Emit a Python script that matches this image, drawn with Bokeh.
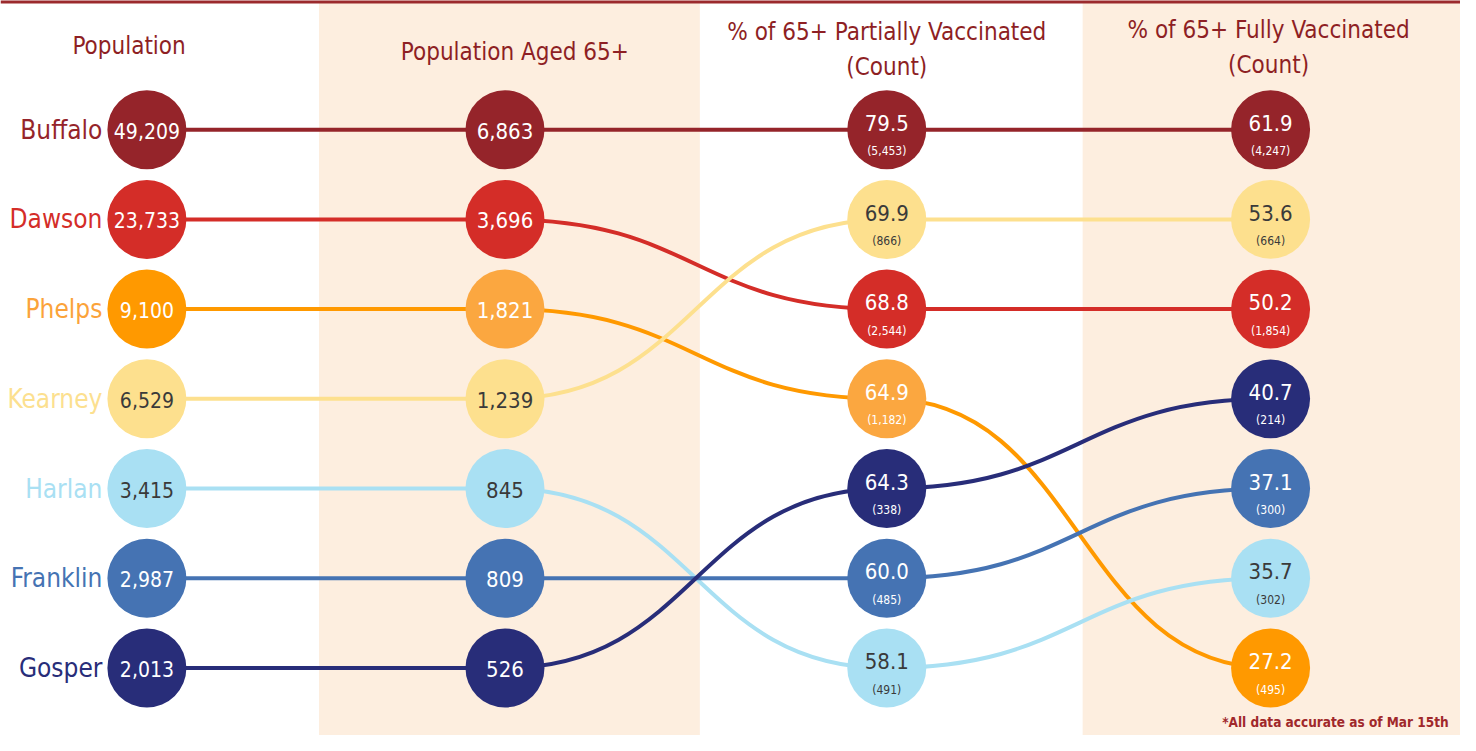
from bokeh.plotting import figure
from bokeh.models import Range1d
from bokeh.core.properties import value
from bokeh.embed import file_html
from bokeh.resources import INLINE

# ---------------- data ----------------
counties = ["Buffalo", "Dawson", "Phelps", "Kearney", "Harlan", "Franklin", "Gosper"]
population = [49209, 23733, 9100, 6529, 3415, 2987, 2013]
pop_65 = [6863, 3696, 1821, 1239, 845, 809, 526]
partial_pct = [79.5, 68.8, 64.9, 69.9, 58.1, 60.0, 64.3]
partial_count = [5453, 2544, 1182, 866, 491, 485, 338]
full_pct = [61.9, 50.2, 27.2, 53.6, 35.7, 37.1, 40.7]
full_count = [4247, 1854, 495, 664, 302, 300, 214]
headers = ["Population", "Population Aged 65+",
           "% of 65+ Partially Vaccinated\n(Count)", "% of 65+ Fully Vaccinated\n(Count)"]
footnote = "*All data accurate as of Mar 15th"

# ---------------- styles ----------------
colors = ["#95242A", "#D42D28", "#FF9900", "#FDE08E", "#A9E0F3", "#4573B3", "#282D79"]
mid_colors = ["#95242A", "#D42D28", "#FBA740", "#FDE08E", "#A9E0F3", "#4573B3", "#282D79"]
label_colors = ["#95242A", "#D42D28", "#FBA33A", "#FCE08F", "#A9E0F3", "#4573B3", "#282D79"]
text_colors = ["white", "white", "white", "#3A3A3A", "#3A3A3A", "white", "white"]
HEAD = "#8E1F24"
BAND = "#FDEEDF"
FONT = "DejaVu Sans Condensed"

col_x = [148, 510, 896, 1284]
row_y0 = 132
row_dy = 550 / 6


def ranks(vals):
    order = sorted(range(len(vals)), key=lambda i: -vals[i])
    r = [0] * len(vals)
    for k, i in enumerate(order):
        r[i] = k
    return r


cols = [population, pop_65, partial_pct, full_pct]
rank_cols = [ranks(c) for c in cols]
ypos = [[row_y0 + r * row_dy for r in rc] for rc in rank_cols]

p = figure(width=1460, height=735, x_range=Range1d(0, 1476), y_range=Range1d(751, 0),
           output_backend="svg", toolbar_location=None, min_border=0)
p.axis.visible = False
p.grid.visible = False
p.outline_line_color = None
p.background_fill_color = "white"
p.border_fill_color = "white"

# background bands
p.quad(left=[322, 1094], right=[707, 1480], top=[0, 0], bottom=[760, 760],
       fill_color=BAND, line_color=None)
# top border
p.quad(left=[0], right=[1480], top=[-2], bottom=[3], fill_color="#9B2A2D", line_color=None)

# connecting lines
n = len(counties)
for i in range(n):
    x0s, y0s, x1s, y1s, cxs, cys0, cys1 = [], [], [], [], [], [], []
    for c in range(3):
        xa, xb = col_x[c], col_x[c + 1]
        ya, yb = ypos[c][i], ypos[c + 1][i]
        x0s.append(xa); y0s.append(ya); x1s.append(xb); y1s.append(yb)
        cxs.append((xa + xb) / 2); cys0.append(ya); cys1.append(yb)
    p.bezier(x0=x0s, y0=y0s, x1=x1s, y1=y1s, cx0=cxs, cy0=cys0, cx1=cxs, cy1=cys1,
             line_color=colors[i], line_width=4)

# circles
for c in range(4):
    fills = colors if c in (0, 3) else mid_colors
    p.scatter(x=[col_x[c]] * n, y=ypos[c], size=79, fill_color=fills, line_color=None)

# county labels
p.text(x=[103] * n, y=ypos[0], text=counties, text_align="right", text_baseline="middle",
       text_color=label_colors, text_font=value(FONT), text_font_size="26px")

# values in circles (cols 1-2)
p.text(x=[col_x[0]] * n, y=[y + 1 for y in ypos[0]], text=[f"{v:,}" for v in population],
       text_align="center", text_baseline="middle", text_color=text_colors,
       text_font=value(FONT), text_font_size="21px")
p.text(x=[col_x[1]] * n, y=[y + 1 for y in ypos[1]], text=[f"{v:,}" for v in pop_65],
       text_align="center", text_baseline="middle", text_color=text_colors,
       text_font=value(FONT), text_font_size="22px")

# pct + count (cols 3-4)
for c, pct, cnt in ((2, partial_pct, partial_count), (3, full_pct, full_count)):
    p.text(x=[col_x[c]] * n, y=[y - 7 for y in ypos[c]], text=[f"{v:.1f}" for v in pct],
           text_align="center", text_baseline="middle", text_color=text_colors,
           text_font=value(FONT), text_font_size="22px")
    p.text(x=[col_x[c]] * n, y=[y + 22 for y in ypos[c]], text=[f"({v:,})" for v in cnt],
           text_align="center", text_baseline="middle", text_color=text_colors,
           text_font=value(FONT), text_font_size="12px")

# headers
p.text(x=[130, 520], y=[47, 53], text=headers[:2], text_align="center", text_baseline="middle",
       text_color=HEAD, text_font=value(FONT), text_font_size="24px")
for hx, hy, h in ((896, 32, headers[2]), (1282, 30, headers[3])):
    lines = h.split("\n")
    p.text(x=[hx, hx], y=[hy, hy + 36], text=lines, text_align="center", text_baseline="middle",
           text_color=HEAD, text_font=value(FONT), text_font_size="24px")

# footnote
p.text(x=[1464], y=[737], text=[footnote], text_align="right", text_baseline="middle",
       text_color="#A0282B", text_font=value(FONT), text_font_size="13.5px", text_font_style="bold")

open("out.html", "w").write(file_html(p, INLINE))
